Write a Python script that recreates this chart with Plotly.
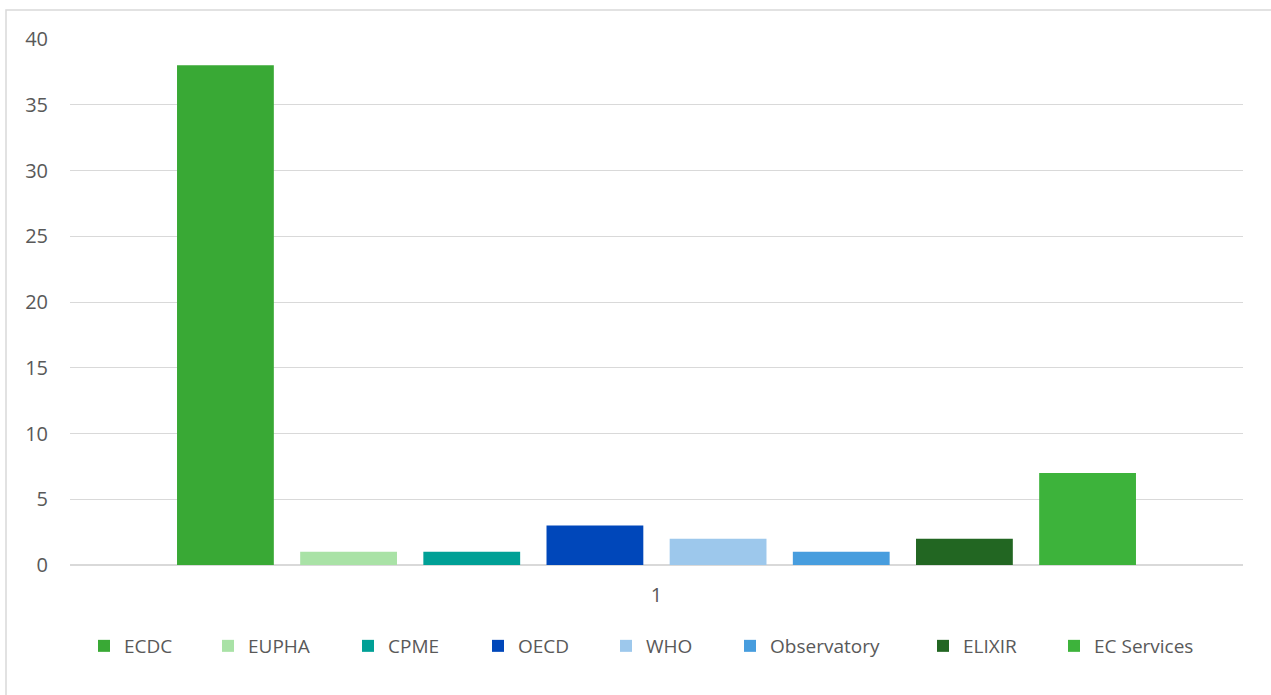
import plotly.graph_objects as go

categories = ["1"]
series_names = ["ECDC", "EUPHA", "CPME", "OECD", "WHO", "Observatory", "ELIXIR", "EC Services"]
series_values = [38, 1, 1, 3, 2, 1, 2, 7]
series_colors = ["#39A935", "#A9E2A6", "#00A096", "#0047BA", "#9DC8EC", "#479DDE", "#226622", "#3DB33B"]
y_ticks = [0, 5, 10, 15, 20, 25, 30, 35, 40]
legend_marker_px = [101, 225, 365, 495, 623, 747, 940, 1071]

W, H = 1271, 695
ml, mr, mt, mb = 70, 28, 39, 130
pw, ph = W - ml - mr, H - mt - mb
FONT = "Open Sans, Lato, sans-serif"
GRAY = "#595959"

fig = go.Figure()
legend_layouts = {}
for i, (name, val, col, lx) in enumerate(zip(series_names, series_values, series_colors, legend_marker_px)):
    lid = "legend" if i == 0 else f"legend{i + 1}"
    fig.add_trace(go.Bar(x=categories, y=[val], name=name, legend=lid,
                         marker=dict(color=col, line=dict(width=0))))
    legend_layouts[lid] = dict(
        orientation="h", x=(lx - 17 - ml) / pw, xanchor="left",
        y=(ph - (646 - mt)) / ph, yanchor="middle",
        font=dict(family=FONT, size=19, color=GRAY),
        bgcolor="rgba(0,0,0,0)", borderwidth=0,
    )

fig.update_layout(
    width=W, height=H,
    margin=dict(l=ml, r=mr, t=mt, b=mb),
    paper_bgcolor="white", plot_bgcolor="white",
    barmode="group", bargap=0.16, bargroupgap=0.214,
    font=dict(family=FONT, size=20, color=GRAY),
    xaxis=dict(type="category", showgrid=False, showline=False, ticks="",
               tickfont=dict(family=FONT, size=20, color=GRAY), ticklabelstandoff=16),
    yaxis=dict(range=[0, 40], tickvals=y_ticks, showgrid=True, gridcolor="#D9D9D9", gridwidth=1,
               zeroline=True, zerolinecolor="#D9D9D9", zerolinewidth=2, showline=False, ticks="",
               tickfont=dict(family=FONT, size=20, color=GRAY), ticklabelstandoff=21),
    showlegend=True,
    **legend_layouts,
)

# chart border
fig.add_shape(type="rect", xref="paper", yref="paper",
              x0=(6 - ml) / pw, x1=(W + 10 - ml) / pw,
              y0=-(H + 10 - mt - ph) / ph, y1=1 + (mt - 10) / ph,
              line=dict(color="#D9D9D9", width=1.5), fillcolor="rgba(0,0,0,0)", layer="below")

fig.write_html("out.html")
